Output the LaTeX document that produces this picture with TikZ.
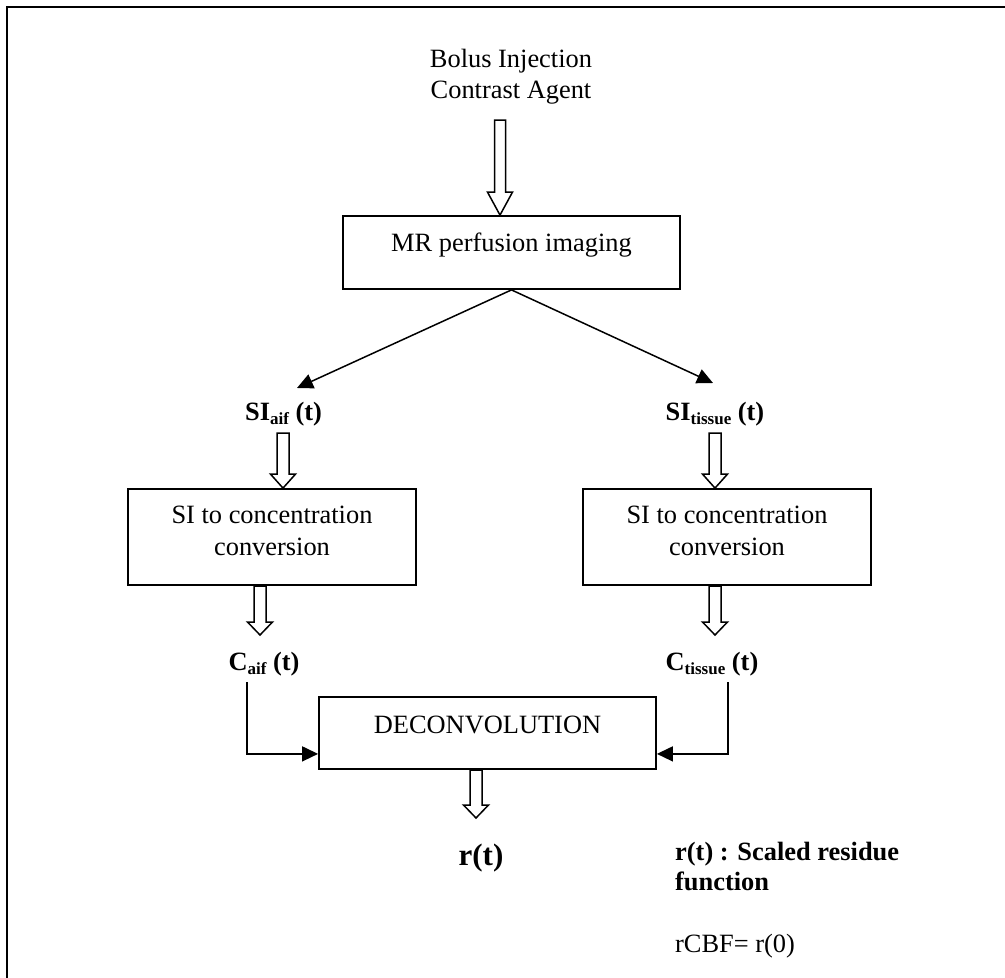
\documentclass[tikz,border=0pt]{standalone}
\usepackage{fontspec}
\setmainfont{Liberation Serif}
\usetikzlibrary{arrows.meta,calc}
\setlength\tabcolsep{0pt}
% lowered, smaller subscript text
\newcommand\subtext[1]{\raisebox{-4pt}{\fontsize{17}{17}\selectfont #1}}
% hollow block arrow pointing down: #1 tail, #2 tip, #3 head length, #4 shaft half width
\newcommand\hollowdown[4]{%
  \draw[hollow] let \p1=(#1), \p2=(#2) in
    (\x1-#4,\y1) -- (\x1+#4,\y1) -- (\x1+#4,\y2+#3) -- (\x1+12.5pt,\y2+#3)
    -- (\x1,\y2) -- (\x1-12.5pt,\y2+#3) -- (\x1-#4,\y2+#3) -- cycle;}
\begin{document}
\begin{tikzpicture}[x=1pt,y=-1pt,
  frame/.style={draw,line width=2pt},
  box/.style={draw,line width=1.8pt,inner sep=0pt,
    font=\fontsize{26.4}{32}\selectfont},
  txt/.style={inner sep=0pt,font=\fontsize{26.4}{31}\selectfont},
  lbl/.style={inner sep=0pt,anchor=base,font=\fontsize{26.4}{31}\selectfont\bfseries},
  hollow/.style={draw,fill=white,line width=1.5pt,line join=miter},
  arr/.style={draw,line width=1.5pt,-{Triangle[length=16pt,width=15pt]}}]
\useasboundingbox (0,0) rectangle (1005,978);
\clip (0,0) rectangle (1005,978);
\draw[frame] (7,7) rectangle (1030,1010);

% injection text
\node[txt,anchor=base] (bolus) at (511,67)
  {\begin{tabular}[t]{c}Bolus Injection\\Contrast Agent\end{tabular}};

% boxes
\node[box,minimum width=337pt,text height=35pt,text depth=38pt] (mr)
  at (511.5,252.5) {MR perfusion imaging};
\node[box,minimum width=288pt,text height=34pt,text depth=62pt] (conva)
  at (272,537) {\begin{tabular}[t]{c}SI to concentration\\conversion\end{tabular}};
\node[box,minimum width=288pt,text height=34pt,text depth=62pt] (convt)
  at (727,537) {\begin{tabular}[t]{c}SI to concentration\\conversion\end{tabular}};
\node[box,minimum width=337pt,text height=36pt,text depth=36pt] (deconv)
  at (487.5,733) {DECONVOLUTION};

% signal labels
\node[lbl] (sia) at (283.5,420) {SI\subtext{aif} (t)};
\node[lbl] (sit) at (715,420) {SI\subtext{tissue} (t)};
\node[lbl] (ca) at (264,670) {C\subtext{aif} (t)};
\node[lbl] (ct) at (712,670) {C\subtext{tissue} (t)};
\node[lbl,font=\fontsize{31}{31}\selectfont\bfseries] (rt) at (481,865) {r(t)};

% notes
\node[txt,anchor=base west,font=\fontsize{26.4}{30}\selectfont\bfseries] (note) at (675,860)
  {\begin{tabular}[t]{l}r(t) : Scaled residue\\function\end{tabular}};
\node[txt,anchor=base west] (cbf) at (675,952) {rCBF= r(0)};

% tails and free ends of the connectors
\coordinate (inj) at (500,120);
\coordinate (sia-tail) at (283,433);
\coordinate (sit-tail) at (715,433);
\coordinate (ca-tail) at (260,586);
\coordinate (ct-tail) at (715,586);
\coordinate (ca-top) at (247,682);
\coordinate (ct-top) at (728,682);
\coordinate (rt-tail) at (476,770);
\coordinate (rt-tip) at (476,818);
\coordinate (sia-tip) at (297,388);
\coordinate (sit-tip) at (713,383);

% block arrows
\hollowdown{inj}{inj |- mr.north}{23pt}{5.5pt}
\hollowdown{sia-tail}{sia-tail |- conva.north}{14pt}{6pt}
\hollowdown{sit-tail}{sit-tail |- convt.north}{14pt}{6pt}
\hollowdown{ca-tail}{260,635}{13pt}{6pt}
\hollowdown{ct-tail}{715,635}{13pt}{6pt}
\hollowdown{rt-tail}{rt-tip}{13pt}{6pt}

% line arrows
\draw[arr] (mr.south) -- (sia-tip);
\draw[arr] (mr.south) -- (sit-tip);
\draw[arr] (ca-top) |- ([yshift=16pt]deconv.south west);
\draw[arr] (ct-top) |- ([yshift=16pt]deconv.south east);
\end{tikzpicture}
\end{document}
